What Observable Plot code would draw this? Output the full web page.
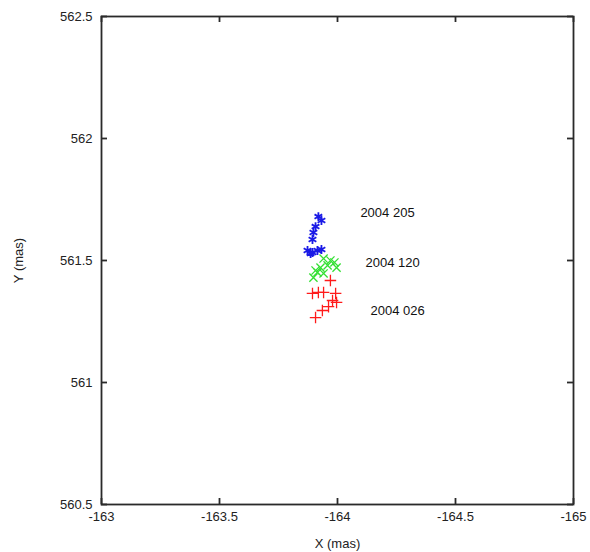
<!DOCTYPE html>
<html>
<head>
<meta charset="utf-8">
<script src="https://cdn.jsdelivr.net/npm/d3@7"></script>
<script src="https://cdn.jsdelivr.net/npm/@observablehq/plot@0.6"></script>
<style>
  html, body { margin: 0; padding: 0; background: #fff; }
  #chart svg { display: block; }
</style>
</head>
<body>
<div id="chart"></div>
<script>
// Epoch 2004 205 (blue asterisks)
const x205 = [-163.919, -163.932, -163.907, -163.898, -163.894, -163.873, -163.894, -163.915, -163.932, -163.886];
const y205 = [561.680, 561.664, 561.639, 561.615, 561.586, 561.541, 561.533, 561.541, 561.545, 561.529];
// Epoch 2004 120 (green crosses)
const x120 = [-163.941, -163.970, -163.987, -163.958, -163.928, -163.907, -163.941, -163.898, -163.915, -163.996];
const y120 = [561.508, 561.500, 561.492, 561.480, 561.471, 561.459, 561.447, 561.430, 561.451, 561.471];
// Epoch 2004 026 (red plus)
const x026 = [-163.970, -163.894, -163.919, -163.941, -163.992, -163.979, -163.996, -163.962, -163.936, -163.907];
const y026 = [561.418, 561.365, 561.369, 561.369, 561.365, 561.336, 561.328, 561.311, 561.295, 561.266];

const labels = ["2004 205", "2004 120", "2004 026"];
const labelX = [-164.097, -164.119, -164.140];
const labelY = [561.697, 561.492, 561.295];

const xTicks = [-163, -163.5, -164, -164.5, -165];
const yTicks = [560.5, 561, 561.5, 562, 562.5];

const toRows = (xs, ys) => xs.map((x, i) => ({x, y: ys[i]}));
const d205 = toRows(x205, y205);
const d120 = toRows(x120, y120);
const d026 = toRows(x026, y026);
const labelRows = labels.map((t, i) => ({t, x: labelX[i], y: labelY[i]}));

const fmt = d => String(d);

const W = 590, H = 552, ML = 101, MR = 17, MT = 16, MB = 48;
const innerW = W - ML - MR, innerH = H - MT - MB;
const TICK = 6;
const tickStyle = {stroke: "#2a2a2a", strokeWidth: 1.8};

const chart = Plot.plot({
  width: W,
  height: H,
  marginLeft: ML,
  marginRight: MR,
  marginTop: MT,
  marginBottom: MB,
  style: {fontFamily: "Liberation Sans, Arial, sans-serif", fontSize: "13px", color: "#222", background: "#fff"},
  x: {domain: [-163, -165], ticks: xTicks, tickFormat: fmt},
  y: {domain: [560.5, 562.5], ticks: yTicks, tickFormat: fmt},
  marks: [
    Plot.frame({stroke: "#2a2a2a", strokeWidth: 1.8}),
    Plot.axisX({ticks: xTicks, tickFormat: fmt, tickSize: 0, tickPadding: 7, fontSize: 13, label: "X (mas)", labelAnchor: "center", labelArrow: "none", labelOffset: 43}),
    Plot.axisY({ticks: yTicks, tickFormat: fmt, tickSize: 0, tickPadding: 9, fontSize: 13, label: "Y (mas)", labelAnchor: "center", labelArrow: "none", labelOffset: 88}),
    // inward tick marks on all four sides
    Plot.tickX(xTicks, {x: d => d, insetTop: innerH - TICK, ...tickStyle}),
    Plot.tickX(xTicks, {x: d => d, insetBottom: innerH - TICK, ...tickStyle}),
    Plot.tickY(yTicks, {y: d => d, insetRight: innerW - TICK, ...tickStyle}),
    Plot.tickY(yTicks, {y: d => d, insetLeft: innerW - TICK, ...tickStyle}),
    Plot.dot(d026, {x: "x", y: "y", symbol: "plus", r: 3.8, stroke: "#ff1a1a", strokeWidth: 1.3}),
    Plot.dot(d120, {x: "x", y: "y", symbol: "times", r: 3.8, stroke: "#33e033", strokeWidth: 1.3}),
    Plot.dot(d205, {x: "x", y: "y", symbol: "asterisk", r: 4.2, stroke: "#1a1ae6", strokeWidth: 1.8}),
    Plot.text(labelRows, {x: "x", y: "y", text: "t", textAnchor: "start", fontSize: 13, fill: "#111"})
  ]
});
document.getElementById("chart").appendChild(chart);
</script>
</body>
</html>
